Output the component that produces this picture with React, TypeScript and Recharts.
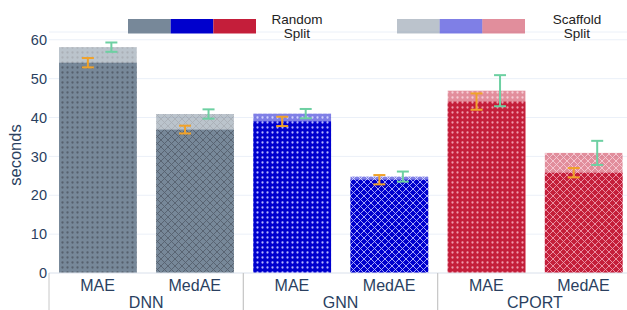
import React from 'react';
import { ComposedChart, Bar, XAxis, YAxis, CartesianGrid } from 'recharts';

// values (seconds)
const models = ['DNN', 'GNN', 'CPORT'];
const metrics = ['MAE', 'MedAE'];
const splits = ['Random Split', 'Scaffold Split'];
const randomValues = [54.1, 36.9, 39.0, 24.0, 44.1, 25.8];
const randomErrors = [1.2, 1.0, 1.2, 1.2, 2.1, 1.2];
const scaffoldValues = [58.1, 40.9, 41.0, 24.8, 46.9, 30.9];
const scaffoldErrors = [1.2, 1.2, 1.2, 1.3, 4.0, 3.1];
const yTicks = [0, 10, 20, 30, 40, 50, 60];

const modelColors = ['#778899', '#0000cd', '#c41e3a'];
const patternInk = ['#56606d', '#b4b4ff', '#ee9aac'];
const randomErrColor = '#f0a22a';
const scaffoldErrColor = '#6dd0a2';
const TEXT = '#2a3f5f';
const FONT = '"Liberation Sans", Arial, sans-serif';

const CHART_W = 640;
const CHART_H = 310;
const PLOT_LEFT = 49;
const PLOT_RIGHT = 632;
const PLOT_W = PLOT_RIGHT - PLOT_LEFT;

const data = models.flatMap((model, m) =>
  metrics.map((metric, k) => {
    const i = m * metrics.length + k;
    return {
      key: `${model}-${metric}`,
      model,
      metric,
      m,
      k,
      random: randomValues[i],
      randomErr: randomErrors[i],
      scaffold: scaffoldValues[i],
      scaffoldErr: scaffoldErrors[i],
    };
  })
);

const BAND = PLOT_W / data.length;
const BAR_W = BAND * 0.8;

const patId = (m: number, k: number) => `pat-${m}-${k}`;

const Patterns = () => (
  <svg width={0} height={0} style={{ position: 'absolute' }}>
    <defs>
      {models.map((_, m) => (
        <React.Fragment key={m}>
          <pattern id={patId(m, 0)} width={5} height={5} patternUnits="userSpaceOnUse">
            <rect width={5} height={5} fill={modelColors[m]} />
            <circle cx={2.5} cy={2.5} r={1.15} fill={patternInk[m]} />
          </pattern>
          <pattern id={patId(m, 1)} width={7} height={7} patternUnits="userSpaceOnUse">
            <rect width={7} height={7} fill={modelColors[m]} />
            <path d="M0,0 L7,7 M7,0 L0,7" stroke={patternInk[m]} strokeWidth={0.9} />
          </pattern>
        </React.Fragment>
      ))}
    </defs>
  </svg>
);

const ErrorMark = ({ cx, cy, half, color }: any) => (
  <g stroke={color} strokeWidth={2}>
    <line x1={cx} x2={cx} y1={cy - half} y2={cy + half} />
    <line x1={cx - 6} x2={cx + 6} y1={cy - half} y2={cy - half} />
    <line x1={cx - 6} x2={cx + 6} y1={cy + half} y2={cy + half} />
  </g>
);

const RandomShape = (props: any) => {
  const { x, y, width, height, payload } = props;
  return <rect x={x} y={y} width={width} height={height} fill={`url(#${patId(payload.m, payload.k)})`} />;
};

const ScaffoldShape = (props: any) => {
  const { x, y, width, height, payload } = props;
  const perUnit = height / payload.scaffold;
  const base = y + height;
  const cx = x + width / 2;
  return (
    <g>
      <rect x={x} y={y} width={width} height={height} fill={`url(#${patId(payload.m, payload.k)})`} opacity={0.5} />
      <ErrorMark cx={cx - 10} cy={base - payload.random * perUnit} half={payload.randomErr * perUnit} color={randomErrColor} />
      <ErrorMark cx={cx + 13.5} cy={y} half={payload.scaffoldErr * perUnit} color={scaffoldErrColor} />
    </g>
  );
};

const CategoryTick = (props: any) => {
  const { x, y, payload } = props;
  const d = data.find((e) => e.key === payload.value);
  if (!d) return null;
  return (
    <g>
      <text x={x} y={y + 18} textAnchor="middle" fontSize={16} fill={TEXT}>
        {d.metric}
      </text>
      {d.k === 0 && (
        <>
          <line x1={x - BAND / 2} x2={x - BAND / 2} y1={y} y2={y + 40} stroke="#c8c8c8" />
          <text x={x + BAND / 2} y={y + 34.5} textAnchor="middle" fontSize={16} fill={TEXT}>
            {d.model}
          </text>
        </>
      )}
      {d.k === metrics.length - 1 && (
        <line x1={x + BAND / 2} x2={x + BAND / 2} y1={y} y2={y + 40} stroke="#c8c8c8" />
      )}
    </g>
  );
};

const legendSwatchX = [128, 397];
const legendTextX = [297, 577];

const Overlay = () => (
  <svg width={627} height={310} style={{ position: 'absolute', left: 0, top: 0, pointerEvents: 'none' }}>
    {splits.map((s, si) => {
      const [l1, l2] = s.split(' ');
      const segW = 128 / models.length;
      return (
        <g key={s}>
          {models.map((_, m) => (
            <rect
              key={m}
              x={legendSwatchX[si] + m * segW}
              y={19}
              width={segW}
              height={14.5}
              fill={modelColors[m]}
              opacity={si === 0 ? 1 : 0.5}
            />
          ))}
          <text x={legendTextX[si]} y={24} textAnchor="middle" fontSize={13.5} fill="#222">{l1}</text>
          <text x={legendTextX[si]} y={37.5} textAnchor="middle" fontSize={13.5} fill="#222">{l2}</text>
        </g>
      );
    })}
    <text x={15} y={155} transform="rotate(-90 15 155)" textAnchor="middle" dominantBaseline="central" fontSize={16.5} fill={TEXT}>
      seconds
    </text>
  </svg>
);

export default function App() {
  return (
    <div
      style={{
        position: 'absolute',
        left: 0,
        top: 0,
        width: 627,
        height: 310,
        overflow: 'hidden',
        background: '#fff',
        fontFamily: FONT,
      }}
    >
      <Patterns />
      <ComposedChart
        width={CHART_W}
        height={CHART_H}
        data={data}
        margin={{ top: 32, right: CHART_W - PLOT_RIGHT, bottom: 0, left: 0 }}
        barSize={BAR_W}
        barGap={-BAR_W}
      >
        <CartesianGrid vertical={false} stroke="#ebf0f8" />
        <XAxis
          dataKey="key"
          height={37}
          tickLine={false}
          tickSize={0}
          tickMargin={0}
          axisLine={{ stroke: '#e3e8ef' }}
          tick={<CategoryTick />}
          interval={0}
        />
        <YAxis
          width={PLOT_LEFT}
          domain={[0, 62]}
          ticks={yTicks}
          axisLine={false}
          tickLine={false}
          tickSize={0}
          tickMargin={2}
          tick={{ fill: TEXT, fontSize: 14.5 }}
        />
        <Bar dataKey="random" shape={RandomShape} isAnimationActive={false} />
        <Bar dataKey="scaffold" shape={ScaffoldShape} isAnimationActive={false} />
      </ComposedChart>
      <Overlay />
    </div>
  );
}
